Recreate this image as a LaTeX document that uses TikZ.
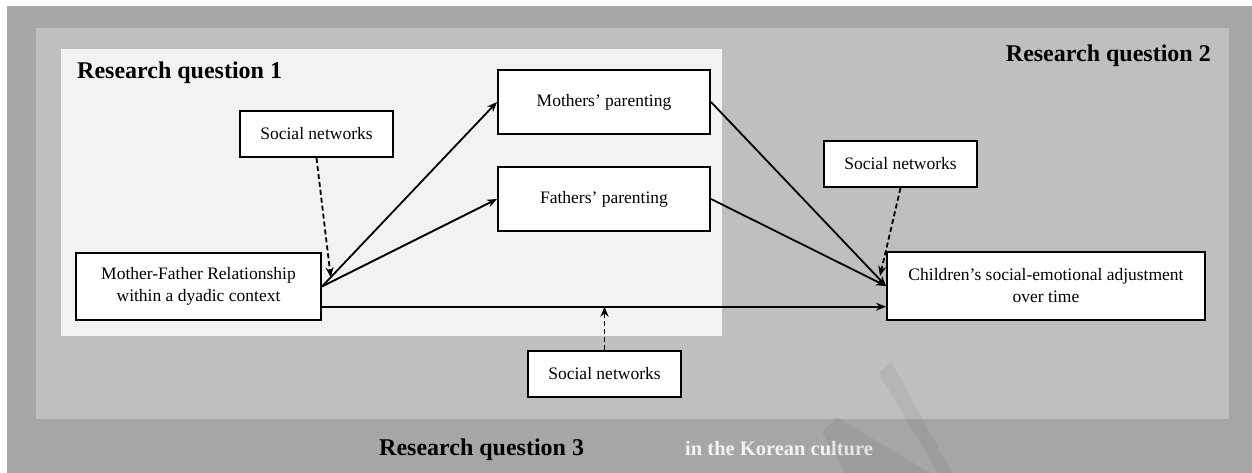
\documentclass[tikz,border=0pt]{standalone}
\usepackage{fontspec}
\setmainfont{Liberation Serif}
\usetikzlibrary{arrows.meta,calc}
\definecolor{outergray}{HTML}{A6A6A6}
\definecolor{midgray}{HTML}{BFBFBF}
\definecolor{lightgray}{HTML}{F2F2F2}
\begin{document}
\begin{tikzpicture}[x=1pt,y=-1pt,
  box/.style={draw=black,line width=2pt,fill=white,inner sep=0pt,align=center,
    anchor=north west,font=\fontsize{17.5}{22}\selectfont},
  arr/.style={line width=1.8pt,-{Stealth[length=10pt,width=8pt]}},
  dsh/.style={arr,dash pattern=on 5pt off 3pt},
  rq/.style={inner sep=0pt,font=\bfseries\fontsize{24}{28}\selectfont},
  stripe/.style={fill=black,opacity=0.05}]
\useasboundingbox (0,0) rectangle (1252,473);
\begin{scope}
\clip (0,0) rectangle (1252,473);
% backgrounds
\fill[white] (0,0) rectangle (1252,473);
\fill[outergray] (7,6) rectangle (1252,473);
\fill[midgray] (36,28) rectangle (1229,419);
\fill[lightgray] (61,49) rectangle (722,336);

% titles
\node[rq,anchor=base west] (rq1) at (77,79) {Research question 1};
\node[rq,anchor=base east] (rq2) at (1211,61.5) {Research question 2};
\node[rq,anchor=base west] (rq3) at (379,455) {Research question 3};
\node[inner sep=0pt,anchor=base west,text=lightgray,
      font=\bfseries\fontsize{20.5}{24}\selectfont] (kc) at (685,455) {in the Korean culture};

% boxes
\node[box,minimum width=153pt,minimum height=46pt] (sn1) at (239,110) {Social networks};
\node[box,minimum width=212pt,minimum height=64pt] (mo) at (497,69) {Mothers’ parenting};
\node[box,minimum width=212pt,minimum height=64pt] (fa) at (497,166) {Fathers’ parenting};
\node[box,minimum width=245pt,minimum height=67pt] (mf) at (75,252) {Mother-Father Relationship\\within a dyadic context};
\node[box,minimum width=318pt,minimum height=68pt] (ch) at (886,251) {Children’s social-emotional adjustment\\over time};
\node[box,minimum width=153pt,minimum height=46pt] (sn2) at (823,140) {Social networks};
\node[box,minimum width=153pt,minimum height=46pt] (sn3) at (527,350) {Social networks};

% connectors
\coordinate (hl) at (0,306.7);
\draw[arr] (mf.east |- hl) -- (ch.west |- hl);
\draw[arr] (mf.east) -- (mo.west);
\draw[arr] (mf.east) -- (fa.west);
\path (mf.east) -- (mo.west) coordinate[pos=0.05] (m1);
\draw[dsh] (sn1.south) -- (m1);
\draw[dsh] (sn3.north) -- (sn3.north |- hl);
\draw[arr] (mo.east) -- (ch.west);
\draw[arr] (fa.east) -- (ch.west);
\coordinate (c1) at ($(ch.west)+(-6,-10)$);
\draw[dsh] (sn2.south) -- (c1);

% faint diagonal stripes
\fill[stripe] (879,373) -- (891,362) -- (954,476) -- (940,476) -- cycle;
\fill[stripe] (822,432) -- (837,417) -- (935,476) -- (846,476) -- cycle;
\end{scope}
\end{tikzpicture}
\end{document}
